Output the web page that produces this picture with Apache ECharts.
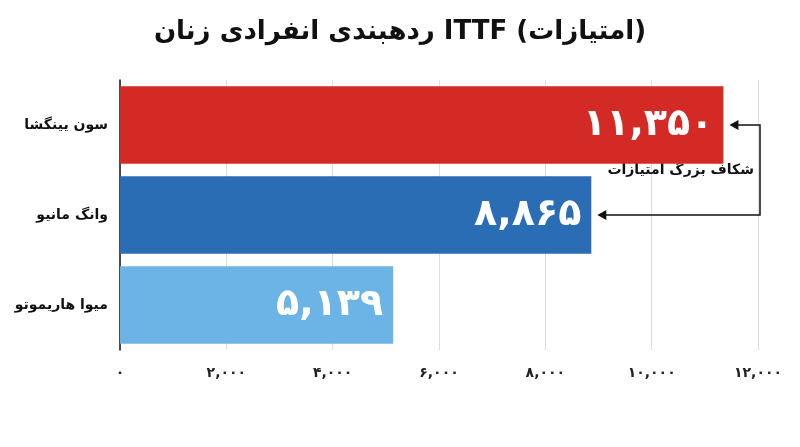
<!DOCTYPE html>
<html><head><meta charset="utf-8">
<script src="https://cdn.jsdelivr.net/npm/echarts@6/dist/echarts.min.js"></script>
<style>html,body{margin:0;padding:0;background:#fff}#c{width:800px;height:447px}</style>
</head><body><div id="c"></div>
<script>
const categories = ['سون یینگشا', 'وانگ مانیو', 'میوا هاریموتو'];
const values = [11350, 8865, 5139];
const colors = ['#d42a25', '#2a6db5', '#6cb3e6'];
const tickValues = [0, 2000, 4000, 6000, 8000, 10000, 12000];
const titleText = 'ردهبندی انفرادی زنان ITTF (امتیازات)';
const noteText = 'شکاف بزرگ امتیازات';

const fa = '۰۱۲۳۴۵۶۷۸۹';
function toFa(n){ return n.toLocaleString('en-US').replace(/\d/g, d => fa[d]); }
const FONT = '"DejaVu Sans", "Noto Sans", sans-serif';

const chart = echarts.init(document.getElementById('c'));
chart.setOption({
  animation: false,
  title: { text: titleText, left: 'center', top: 14, textStyle: { fontFamily: FONT, fontSize: 26, fontWeight: 'bold', color: '#111' } },
  grid: { left: 120, right: 42, top: 80, bottom: 97 },
  xAxis: { type: 'value', min: 0, max: 12000, interval: 2000,
    axisLine: { show: false }, axisTick: { show: false },
    splitLine: { lineStyle: { color: '#ddd' } },
    axisLabel: { formatter: v => toFa(v), fontFamily: FONT, fontWeight: 'bold', fontSize: 14, color: '#222', margin: 16 } },
  yAxis: { type: 'category', data: categories, inverse: true,
    axisLine: { show: true, lineStyle: { color: '#111', width: 1.5 } }, axisTick: { show: false },
    axisLabel: { fontFamily: FONT, fontWeight: 'bold', fontSize: 14, color: '#111', margin: 12 } },
  series: [{ type: 'bar', barCategoryGap: '14%',
    data: values.map((v, i) => ({ value: v, itemStyle: { color: colors[i] } })),
    label: { show: true, position: 'insideRight', formatter: p => toFa(p.value), color: '#fff',
      fontFamily: FONT, fontWeight: 'bold', fontSize: 38, distance: 10 } }]
});

const p1 = chart.convertToPixel({ xAxisIndex: 0, yAxisIndex: 0 }, [values[0], 0]);
const p2 = chart.convertToPixel({ xAxisIndex: 0, yAxisIndex: 0 }, [values[1], 1]);
const bx = chart.convertToPixel({ xAxisIndex: 0 }, 12000) + 2;
const a1 = p1[0] + 6, a2 = p2[0] + 6;
chart.setOption({ graphic: [
  { type: 'polyline', shape: { points: [[a1 + 8, p1[1]], [bx, p1[1]], [bx, p2[1]], [a2 + 8, p2[1]]] }, style: { stroke: '#111', lineWidth: 1.5, fill: null } },
  { type: 'polygon', shape: { points: [[a1, p1[1]], [a1 + 9, p1[1] - 5], [a1 + 9, p1[1] + 5]] }, style: { fill: '#111' } },
  { type: 'polygon', shape: { points: [[a2, p2[1]], [a2 + 9, p2[1] - 5], [a2 + 9, p2[1] + 5]] }, style: { fill: '#111' } },
  { type: 'text', x: bx - 6, y: (p1[1] + p2[1]) / 2, style: { text: noteText, align: 'right', verticalAlign: 'middle', fill: '#111', font: 'bold 14px ' + FONT } }
]});
</script></body></html>
